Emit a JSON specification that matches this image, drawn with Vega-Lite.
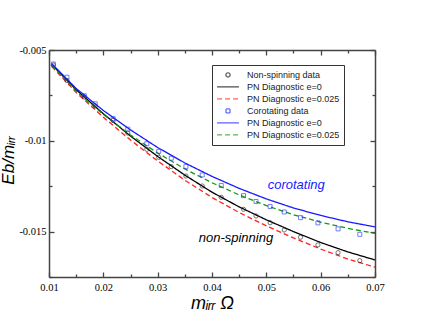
{
  "$schema": "https://vega.github.io/schema/vega-lite/v6.json",
  "autosize": "none",
  "padding": {"left": 49, "top": 50, "right": 48, "bottom": 50},
  "width": 326,
  "height": 227,
  "background": "white",
  "config": {
    "view": {"stroke": null},
    "axis": {
      "domainColor": "#444",
      "domainWidth": 1.5,
      "tickColor": "#444",
      "tickWidth": 1.3,
      "grid": false,
      "labelFlush": false,
      "labelFont": "Liberation Serif",
      "labelFontSize": 10.5,
      "labelColor": "#000",
      "titleFont": "Liberation Sans",
      "titleFontStyle": "italic",
      "titleFontWeight": "normal",
      "titleFontSize": 18,
      "titleColor": "#000"
    },
    "legend": {
      "labelFont": "Liberation Sans",
      "labelFontSize": 9,
      "labelColor": "#222"
    }
  },
  "datasets": {
    "lines": [
      {"series": "ns-e0", "x": 0.0105, "y": -0.0058},
      {"series": "ns-e0", "x": 0.015, "y": -0.00719},
      {"series": "ns-e0", "x": 0.02, "y": -0.00851},
      {"series": "ns-e0", "x": 0.025, "y": -0.00974},
      {"series": "ns-e0", "x": 0.03, "y": -0.01086},
      {"series": "ns-e0", "x": 0.035, "y": -0.01189},
      {"series": "ns-e0", "x": 0.04, "y": -0.01283},
      {"series": "ns-e0", "x": 0.045, "y": -0.01364},
      {"series": "ns-e0", "x": 0.05, "y": -0.01435},
      {"series": "ns-e0", "x": 0.055, "y": -0.015},
      {"series": "ns-e0", "x": 0.06, "y": -0.0156},
      {"series": "ns-e0", "x": 0.065, "y": -0.01612},
      {"series": "ns-e0", "x": 0.07, "y": -0.01656},
      {"series": "ns-e025", "x": 0.0105, "y": -0.00591},
      {"series": "ns-e025", "x": 0.015, "y": -0.00734},
      {"series": "ns-e025", "x": 0.02, "y": -0.0087},
      {"series": "ns-e025", "x": 0.025, "y": -0.00996},
      {"series": "ns-e025", "x": 0.03, "y": -0.01111},
      {"series": "ns-e025", "x": 0.035, "y": -0.01217},
      {"series": "ns-e025", "x": 0.04, "y": -0.01312},
      {"series": "ns-e025", "x": 0.045, "y": -0.01395},
      {"series": "ns-e025", "x": 0.05, "y": -0.01468},
      {"series": "ns-e025", "x": 0.055, "y": -0.01535},
      {"series": "ns-e025", "x": 0.06, "y": -0.01596},
      {"series": "ns-e025", "x": 0.065, "y": -0.01651},
      {"series": "ns-e025", "x": 0.07, "y": -0.01696},
      {"series": "co-e0", "x": 0.0105, "y": -0.00575},
      {"series": "co-e0", "x": 0.015, "y": -0.00712},
      {"series": "co-e0", "x": 0.02, "y": -0.00833},
      {"series": "co-e0", "x": 0.025, "y": -0.0094},
      {"series": "co-e0", "x": 0.03, "y": -0.01037},
      {"series": "co-e0", "x": 0.035, "y": -0.01122},
      {"series": "co-e0", "x": 0.04, "y": -0.01196},
      {"series": "co-e0", "x": 0.045, "y": -0.01262},
      {"series": "co-e0", "x": 0.05, "y": -0.0132},
      {"series": "co-e0", "x": 0.055, "y": -0.0137},
      {"series": "co-e0", "x": 0.06, "y": -0.01411},
      {"series": "co-e0", "x": 0.065, "y": -0.01446},
      {"series": "co-e0", "x": 0.07, "y": -0.01474},
      {"series": "co-e025", "x": 0.0105, "y": -0.00583},
      {"series": "co-e025", "x": 0.015, "y": -0.00728},
      {"series": "co-e025", "x": 0.02, "y": -0.00855},
      {"series": "co-e025", "x": 0.025, "y": -0.00968},
      {"series": "co-e025", "x": 0.03, "y": -0.01067},
      {"series": "co-e025", "x": 0.035, "y": -0.01155},
      {"series": "co-e025", "x": 0.04, "y": -0.01231},
      {"series": "co-e025", "x": 0.045, "y": -0.01298},
      {"series": "co-e025", "x": 0.05, "y": -0.01357},
      {"series": "co-e025", "x": 0.055, "y": -0.01407},
      {"series": "co-e025", "x": 0.06, "y": -0.01448},
      {"series": "co-e025", "x": 0.065, "y": -0.01482},
      {"series": "co-e025", "x": 0.07, "y": -0.0151}
    ],
    "points": [
      {"series": "ns-data", "x": 0.0108, "y": -0.00583},
      {"series": "ns-data", "x": 0.0133, "y": -0.00668},
      {"series": "ns-data", "x": 0.0165, "y": -0.00759},
      {"series": "ns-data", "x": 0.0185, "y": -0.00808},
      {"series": "ns-data", "x": 0.0218, "y": -0.00888},
      {"series": "ns-data", "x": 0.0245, "y": -0.00957},
      {"series": "ns-data", "x": 0.028, "y": -0.01047},
      {"series": "ns-data", "x": 0.0302, "y": -0.01091},
      {"series": "ns-data", "x": 0.0325, "y": -0.01142},
      {"series": "ns-data", "x": 0.0352, "y": -0.01194},
      {"series": "ns-data", "x": 0.0382, "y": -0.01249},
      {"series": "ns-data", "x": 0.0417, "y": -0.01311},
      {"series": "ns-data", "x": 0.0458, "y": -0.01377},
      {"series": "ns-data", "x": 0.0481, "y": -0.01414},
      {"series": "ns-data", "x": 0.0507, "y": -0.01451},
      {"series": "ns-data", "x": 0.0533, "y": -0.01491},
      {"series": "ns-data", "x": 0.0563, "y": -0.01531},
      {"series": "ns-data", "x": 0.0595, "y": -0.01573},
      {"series": "ns-data", "x": 0.0632, "y": -0.01616},
      {"series": "ns-data", "x": 0.0672, "y": -0.0166},
      {"series": "co-data", "x": 0.0108, "y": -0.00577},
      {"series": "co-data", "x": 0.0133, "y": -0.0065},
      {"series": "co-data", "x": 0.0165, "y": -0.00752},
      {"series": "co-data", "x": 0.0185, "y": -0.00796},
      {"series": "co-data", "x": 0.0218, "y": -0.00878},
      {"series": "co-data", "x": 0.0245, "y": -0.00936},
      {"series": "co-data", "x": 0.028, "y": -0.01016},
      {"series": "co-data", "x": 0.0302, "y": -0.01058},
      {"series": "co-data", "x": 0.0325, "y": -0.01096},
      {"series": "co-data", "x": 0.0352, "y": -0.01141},
      {"series": "co-data", "x": 0.0382, "y": -0.01188},
      {"series": "co-data", "x": 0.0417, "y": -0.01246},
      {"series": "co-data", "x": 0.0458, "y": -0.01302},
      {"series": "co-data", "x": 0.0481, "y": -0.01334},
      {"series": "co-data", "x": 0.0507, "y": -0.01362},
      {"series": "co-data", "x": 0.0533, "y": -0.01392},
      {"series": "co-data", "x": 0.0563, "y": -0.01423},
      {"series": "co-data", "x": 0.0595, "y": -0.01452},
      {"series": "co-data", "x": 0.0632, "y": -0.01485},
      {"series": "co-data", "x": 0.0672, "y": -0.01515}
    ],
    "notes": [
      {"label": "corotating", "kind": "co", "x": 0.0555, "y": -0.01243},
      {"label": "non-spinning", "kind": "ns", "x": 0.0444, "y": -0.01536}
    ]
  },
  "layer": [
    {
      "data": {"name": "lines"},
      "mark": {"type": "line", "strokeWidth": 1.3, "clip": true},
      "encoding": {
        "x": {
          "field": "x", "type": "quantitative",
          "scale": {"domain": [0.01, 0.07], "nice": false, "zero": false},
          "axis": {
            "orient": "bottom",
            "title": "mᵢᵣᵣ Ω",
            "values": [0.01, 0.015, 0.02, 0.025, 0.03, 0.035, 0.04, 0.045, 0.05, 0.055, 0.06, 0.065, 0.07],
            "labelExpr": "abs(datum.value*100 - round(datum.value*100)) < 0.001 ? format(datum.value, '.2f') : ''",
            "tickSize": {"condition": {"test": "abs(datum.value*100 - round(datum.value*100)) < 0.001", "value": -5}, "value": -3},
            "labelPadding": 10,
            "titlePadding": 2
          }
        },
        "y": {
          "field": "y", "type": "quantitative",
          "scale": {"domain": [-0.0175, -0.005], "nice": false, "zero": false},
          "axis": {
            "orient": "left",
            "title": "Eb/mᵢᵣᵣ",
            "titleFontSize": 17,
            "titleX": -32,
            "titleY": 110,
            "values": [-0.0175, -0.015, -0.0125, -0.01, -0.0075, -0.005],
            "labelExpr": "abs(datum.value*200 - round(datum.value*200)) < 0.001 ? '-' + format(abs(datum.value), '~g') : ''",
            "tickSize": {"condition": {"test": "abs(datum.value*200 - round(datum.value*200)) < 0.001", "value": -5}, "value": -3},
            "labelPadding": 8
          }
        },
        "color": {
          "field": "series", "type": "nominal",
          "scale": {
            "domain": ["ns-data", "ns-e0", "ns-e025", "co-data", "co-e0", "co-e025"],
            "range": ["#222222", "#000000", "#ff2020", "#2233ff", "#1a1aff", "#119911"]
          },
          "legend": {
            "orient": "none",
            "legendX": 163,
            "legendY": 15,
            "title": null,
            "strokeColor": "#333",
            "padding": 4,
            "rowPadding": 0,
            "clipHeight": 11.8,
            "symbolStrokeWidth": 1.3,
            "labelOffset": 7,
            "labelExpr": "['Non-spinning data','PN Diagnostic e=0','PN Diagnostic e=0.025','Corotating data','PN Diagnostic e=0','PN Diagnostic e=0.025'][indexof(['ns-data','ns-e0','ns-e025','co-data','co-e0','co-e025'], datum.label)]"
          }
        },
        "strokeDash": {
          "field": "series", "type": "nominal",
          "scale": {
            "domain": ["ns-data", "ns-e0", "ns-e025", "co-data", "co-e0", "co-e025"],
            "range": [[1, 0], [1, 0], [5, 3], [1, 0], [1, 0], [5, 3]]
          }
        }
      }
    },
    {
      "data": {"name": "points"},
      "mark": {"type": "point", "filled": false, "strokeWidth": 0.9},
      "encoding": {
        "x": {
          "field": "x", "type": "quantitative",
          "scale": {"domain": [0.01, 0.07], "nice": false, "zero": false},
          "axis": {
            "orient": "top", "title": null, "labels": false,
            "values": [0.01, 0.015, 0.02, 0.025, 0.03, 0.035, 0.04, 0.045, 0.05, 0.055, 0.06, 0.065, 0.07],
            "tickSize": {"condition": {"test": "abs(datum.value*100 - round(datum.value*100)) < 0.001", "value": -5}, "value": -3}
          }
        },
        "y": {
          "field": "y", "type": "quantitative",
          "scale": {"domain": [-0.0175, -0.005], "nice": false, "zero": false},
          "axis": {
            "orient": "right", "title": null, "labels": false,
            "values": [-0.0175, -0.015, -0.0125, -0.01, -0.0075, -0.005],
            "tickSize": {"condition": {"test": "abs(datum.value*200 - round(datum.value*200)) < 0.001", "value": -5}, "value": -3}
          }
        },
        "color": {"field": "series", "type": "nominal"},
        "shape": {
          "field": "series", "type": "nominal",
          "scale": {
            "domain": ["ns-data", "ns-e0", "ns-e025", "co-data", "co-e0", "co-e025"],
            "range": ["circle", "stroke", "stroke", "square", "stroke", "stroke"]
          }
        },
        "size": {
          "field": "series", "type": "nominal",
          "scale": {
            "type": "ordinal",
            "domain": ["ns-data", "ns-e0", "ns-e025", "co-data", "co-e0", "co-e025"],
            "range": [18, 480, 480, 16, 480, 480]
          }
        }
      }
    },
    {
      "data": {"name": "notes"},
      "transform": [{"filter": "datum.kind == 'co'"}],
      "mark": {"type": "text", "font": "Liberation Sans", "fontStyle": "italic", "fontSize": 13, "color": "#1a1aff", "align": "center", "baseline": "middle"},
      "encoding": {
        "x": {"field": "x", "type": "quantitative", "axis": null},
        "y": {"field": "y", "type": "quantitative", "axis": null},
        "text": {"field": "label"}
      }
    },
    {
      "data": {"name": "notes"},
      "transform": [{"filter": "datum.kind == 'ns'"}],
      "mark": {"type": "text", "font": "Liberation Sans", "fontStyle": "italic", "fontSize": 13, "color": "#000", "align": "center", "baseline": "middle"},
      "encoding": {
        "x": {"field": "x", "type": "quantitative", "axis": null},
        "y": {"field": "y", "type": "quantitative", "axis": null},
        "text": {"field": "label"}
      }
    }
  ],
  "resolve": {"axis": {"x": "independent", "y": "independent"}}
}
